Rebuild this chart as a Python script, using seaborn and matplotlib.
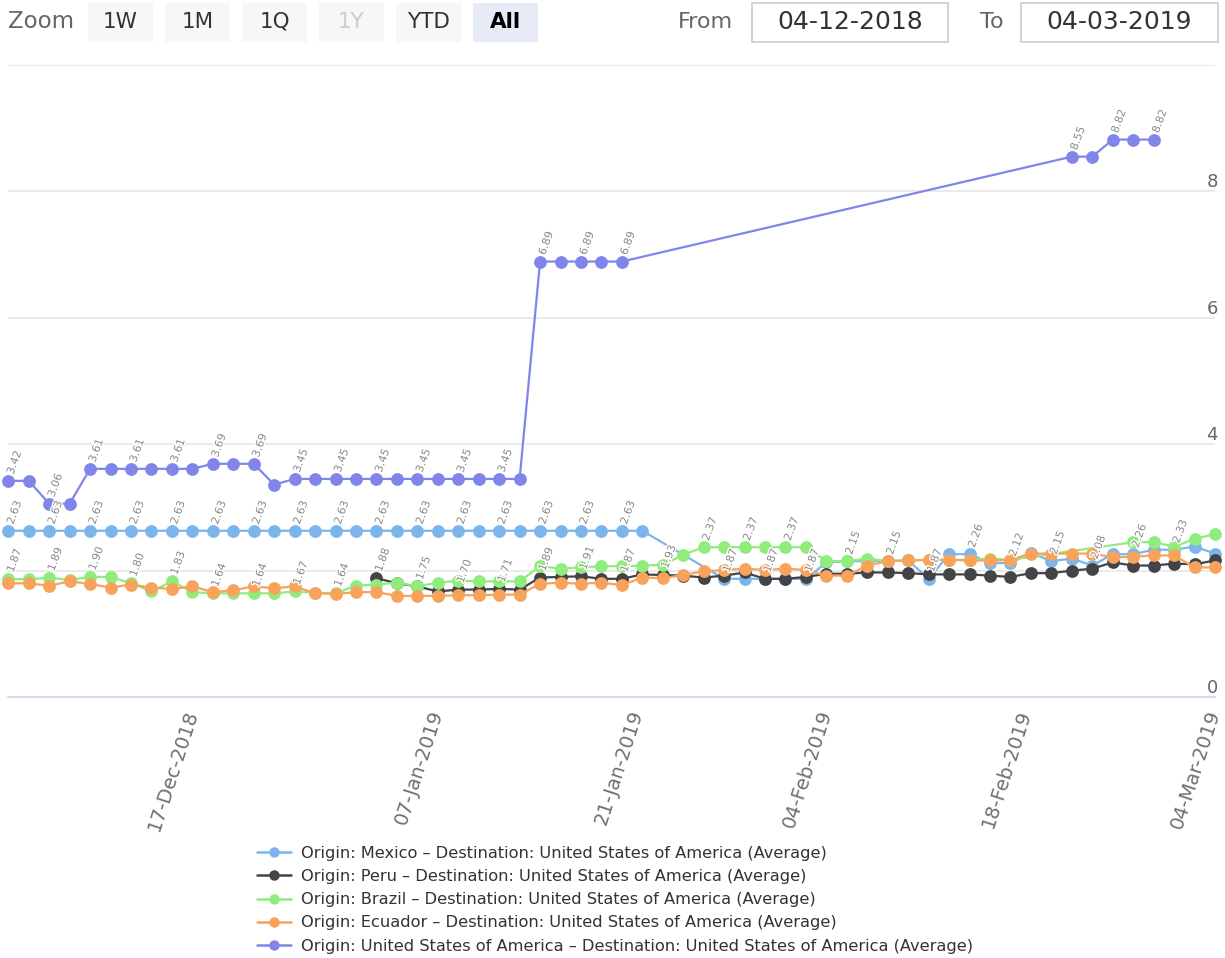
import numpy as np
import pandas as pd
import matplotlib
matplotlib.use("Agg")
import matplotlib.pyplot as plt
import matplotlib.patheffects as pe
from matplotlib.patches import Rectangle
from matplotlib.transforms import Bbox
import seaborn as sns

nan = np.nan

# ---------------- data ----------------
start_date = "2018-12-04"
end_date = "2019-03-04"
closed_days = ["2018-12-24", "2018-12-25", "2019-01-01", "2019-01-21", "2019-02-18"]

tick_dates = ["2018-12-17", "2019-01-07", "2019-01-21", "2019-02-04", "2019-02-18", "2019-03-04"]
tick_labels = ["17-Dec-2018", "07-Jan-2019", "21-Jan-2019", "04-Feb-2019", "18-Feb-2019", "04-Mar-2019"]

y_ticks = [0, 2, 4, 6, 8, 10]
y_tick_labels = ["0", "", "4", "6", "8", ""]

series_names = [
    "Origin: Mexico – Destination: United States of America (Average)",
    "Origin: Peru – Destination: United States of America (Average)",
    "Origin: Brazil – Destination: United States of America (Average)",
    "Origin: Ecuador – Destination: United States of America (Average)",
    "Origin: United States of America – Destination: United States of America (Average)",
]
series_colors = ["#7cb5ec", "#434348", "#90ed7d", "#f7a35c", "#8085e9"]

mexico = [2.63, 2.63, 2.63, 2.63, 2.63, 2.63, 2.63, 2.63, 2.63, 2.63,
          2.63, 2.63, 2.63, 2.63, 2.63, 2.63, 2.63, 2.63, 2.63, 2.63,
          2.63, 2.63, 2.63, 2.63, 2.63, 2.63, 2.63, 2.63, 2.63, 2.63,
          2.63, 2.63, nan, nan, nan, 1.87, 1.87, 1.87, 1.87, 1.87,
          2.13, 2.15, 2.15, 2.15, 2.16, 1.87, 2.26, 2.26, 2.12, 2.12,
          2.28, 2.15, 2.19, 2.08, 2.26, 2.26, 2.33, 2.33, 2.38, 2.27]

peru = [nan, nan, nan, nan, nan, nan, nan, nan, nan, nan,
        nan, nan, nan, nan, nan, nan, nan, nan, 1.88, 1.80,
        1.75, 1.67, 1.70, 1.70, 1.71, 1.70, 1.89, 1.90, 1.91, 1.87,
        1.87, 1.94, 1.93, 1.92, 1.89, 1.92, 1.97, 1.87, 1.87, 1.90,
        1.95, 1.95, 1.97, 1.97, 1.96, 1.94, 1.94, 1.94, 1.92, 1.90,
        1.96, 1.96, 2.00, 2.03, 2.13, 2.08, 2.08, 2.11, 2.10, 2.16]

brazil = [1.87, 1.86, 1.89, 1.85, 1.90, 1.90, 1.80, 1.67, 1.83, 1.66,
          1.64, 1.64, 1.64, 1.64, 1.67, 1.65, 1.64, 1.76, 1.78, 1.81,
          1.75, 1.81, 1.84, 1.83, 1.83, 1.83, 2.07, 2.03, 2.05, 2.07,
          2.07, 2.08, 2.09, 2.25, 2.37, 2.37, 2.37, 2.37, 2.37, 2.37,
          2.15, 2.15, 2.19, 2.15, 2.16, 2.17, 2.17, 2.17, 2.19, 2.17,
          nan, nan, nan, nan, nan, 2.45, 2.45, 2.38, 2.50, 2.58]

ecuador = [1.80, 1.80, 1.76, 1.83, 1.79, 1.73, 1.78, 1.73, 1.71, 1.75,
           1.66, 1.69, 1.75, 1.72, 1.75, 1.64, 1.63, 1.66, 1.66, 1.60,
           1.60, 1.60, 1.61, 1.61, 1.62, 1.62, 1.79, 1.81, 1.79, 1.81,
           1.77, 1.89, 1.88, 1.93, 1.99, 2.01, 2.03, 2.01, 2.03, 2.01,
           1.92, 1.92, 2.08, 2.15, 2.16, 2.17, 2.17, 2.16, 2.16, 2.17,
           2.27, 2.27, 2.27, 2.27, 2.21, 2.22, 2.24, 2.24, 2.05, 2.05]

usa = [3.42, 3.42, 3.06, 3.06, 3.61, 3.61, 3.61, 3.61, 3.61, 3.61,
       3.69, 3.69, 3.69, 3.36, 3.45, 3.45, 3.45, 3.45, 3.45, 3.45,
       3.45, 3.45, 3.45, 3.45, 3.45, 3.45, 6.89, 6.89, 6.89, 6.89,
       6.89, nan, nan, nan, nan, nan, nan, nan, nan, nan,
       nan, nan, nan, nan, nan, nan, nan, nan, nan, nan,
       nan, nan, 8.55, 8.55, 8.82, 8.82, 8.82, nan, nan, nan]

series_values = [mexico, peru, brazil, ecuador, usa]

# ---------------- ordinal date axis ----------------
dates = pd.bdate_range(start_date, end_date)
dates = dates[~dates.isin(pd.to_datetime(closed_days))]
pos = np.arange(len(dates))
date_ns = dates.values.astype("int64")
tick_pos = np.interp(pd.to_datetime(tick_dates).values.astype("int64"), date_ns, pos)

# ---------------- figure ----------------
sns.set_style("white")
plt.rcParams["font.family"] = ["DejaVu Sans"]

W, H = 1225, 958
fig = plt.figure(figsize=(W / 100, H / 100), dpi=100)
left_px, right_px, top_px, bottom_px = 8.3, 1215, 65, 697
ax = fig.add_axes([left_px / W, 1 - bottom_px / H, (right_px - left_px) / W, (bottom_px - top_px) / H])

for name, vals, color in zip(series_names, series_values, series_colors):
    df = pd.DataFrame({"pos": pos, "value": vals}).dropna()
    sns.lineplot(data=df, x="pos", y="value", color=color, marker="o", markersize=9.2,
                 markeredgewidth=0, linewidth=1.6, label=name, ax=ax, clip_on=False)

handles, labels = ax.get_legend_handles_labels()
if ax.get_legend() is not None:
    ax.get_legend().remove()

ax.set_xlim(pos[0], pos[-1])
ax.set_ylim(y_ticks[0], y_ticks[-1])
ax.set_xlabel("")
ax.set_ylabel("")

for s in ["top", "left", "right"]:
    ax.spines[s].set_visible(False)
ax.spines["bottom"].set_color("#ccd6eb")
ax.spines["bottom"].set_linewidth(1.2)

ax.yaxis.grid(True, color="#e6e6e6", linewidth=1.2)
ax.xaxis.grid(False)

ax.set_xticks(tick_pos)
ax.set_xticklabels(tick_labels, rotation=72, ha="right", va="center",
                   rotation_mode="anchor", fontsize=14, color="#707070")
ax.tick_params(axis="x", length=7, width=1.2, color="#ccd6eb", pad=3, direction="out")

ax.yaxis.tick_right()
ax.set_yticks(y_ticks)
ax.set_yticklabels(y_tick_labels, fontsize=13, color="#666666")
ax.tick_params(axis="y", length=0, pad=2)
for lbl in ax.get_yticklabels():
    lbl.set_ha("right")
    lbl.set_va("bottom")

# ---------------- data labels with overlap hiding ----------------
texts = []
for vals in series_values:
    for p, v in zip(pos, vals):
        if np.isnan(v):
            continue
        t = ax.annotate(f"{v:.2f}", (p, v), xytext=(1.5, 5), textcoords="offset points",
                        rotation=70, rotation_mode="anchor", ha="left", va="center",
                        fontsize=7.8, color="#8a8a8a", zorder=10, annotation_clip=False,
                        path_effects=[pe.withStroke(linewidth=2, foreground="white")])
        texts.append(t)

fig.canvas.draw()
renderer = fig.canvas.get_renderer()
ax_bb = ax.get_window_extent(renderer)
kept = []
for t in texts:
    bb = t.get_window_extent(renderer)
    if bb.x1 > ax_bb.x1:
        t.set_visible(False)
        continue
    bb = Bbox.from_extents(bb.x0 - 2.5, bb.y0, bb.x1 + 2.5, bb.y1)
    if any(bb.overlaps(k) for k in kept):
        t.set_visible(False)
    else:
        kept.append(bb)

# ---------------- legend ----------------
leg = fig.legend(handles, labels, loc="upper left", bbox_to_anchor=(257 / W, 1 - 846 / H),
                 frameon=False, fontsize=11.7, labelspacing=0.5, handlelength=2.1,
                 handletextpad=0.62, borderaxespad=0, borderpad=0, numpoints=1)
for txt in leg.get_texts():
    txt.set_color("#333333")
for h in leg.legend_handles:
    h.set_markersize(7.5)
    h.set_linewidth(1.8)

# ---------------- range selector bar ----------------
def fx(px):
    return px / W

def fy(py):
    return 1 - py / H

fig.text(fx(8), fy(22), "Zoom", fontsize=16.5, color="#666666", va="center", ha="left")
buttons = ["1W", "1M", "1Q", "1Y", "YTD", "All"]
for i, b in enumerate(buttons):
    x0 = 88 + i * 77
    face = "#e6ebf5" if b == "All" else "#f7f7f7"
    fig.patches.append(Rectangle((fx(x0), fy(42)), fx(65), 39 / H, transform=fig.transFigure,
                                 facecolor=face, edgecolor="none"))
    color = "#cccccc" if b == "1Y" else ("#000000" if b == "All" else "#333333")
    weight = "bold" if b == "All" else "normal"
    fig.text(fx(x0 + 32.5), fy(22), b, fontsize=15.5, color=color, fontweight=weight,
             ha="center", va="center")

fig.text(fx(733), fy(22), "From", fontsize=16, color="#666666", ha="right", va="center")
fig.text(fx(1004), fy(22), "To", fontsize=16, color="#666666", ha="right", va="center")
for x0, x1, s in [(752, 948, "04-12-2018"), (1021, 1218, "04-03-2019")]:
    fig.patches.append(Rectangle((fx(x0), fy(42)), fx(x1 - x0), 39 / H, transform=fig.transFigure,
                                 facecolor="white", edgecolor="#cccccc", linewidth=1.2))
    fig.text(fx((x0 + x1) / 2), fy(22), s, fontsize=18, color="#333333", ha="center", va="center")

fig.savefig("out.png", dpi=100, facecolor="white")
